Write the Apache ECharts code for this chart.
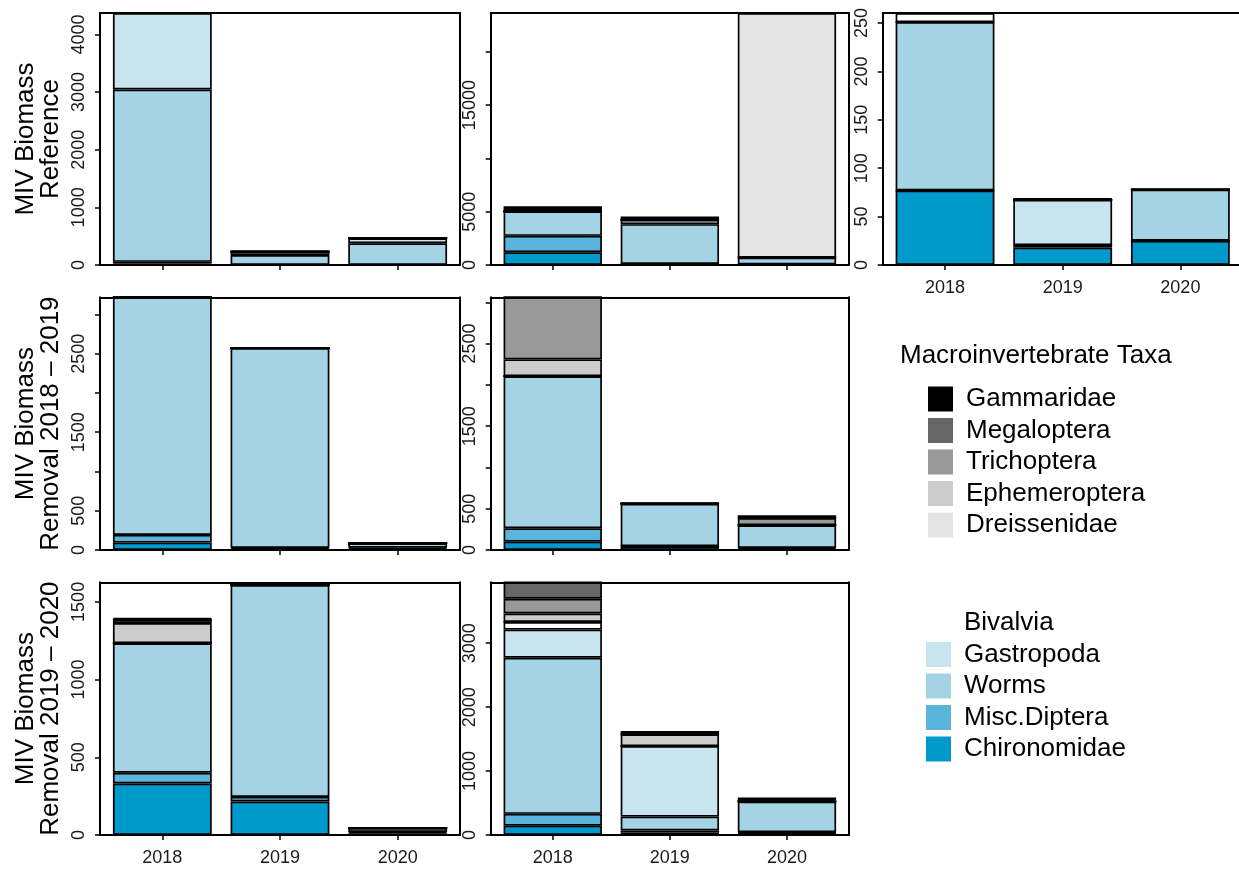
<!DOCTYPE html>
<html>
<head>
<meta charset="utf-8">
<script src="https://cdn.jsdelivr.net/npm/echarts@6/dist/echarts.min.js"></script>
<style>
  html, body { margin: 0; padding: 0; background: #fff; }
  #chart { width: 1239px; height: 869px; }
</style>
</head>
<body>
<div id="chart"></div>
<script>
// ---- data -------------------------------------------------------------
const years = ['2018', '2019', '2020'];

// stacking order, bottom to top
const taxa = ['Chironomidae', 'Misc.Diptera', 'Worms', 'Gastropoda', 'Bivalvia',
              'Dreissenidae', 'Ephemeroptera', 'Trichoptera', 'Megaloptera', 'Gammaridae'];
const taxaColors = ['#0099cc', '#5ab4dc', '#a3d3e5', '#c8e4ef', '#ffffff',
                    '#e5e5e5', '#cccccc', '#999999', '#666666', '#000000'];

// Biomass per taxon; one triple (2018, 2019, 2020) per panel:
// [Reference A, Reference B, Reference C, Removal 18-19 A, Removal 18-19 B, Removal 19-20 A, Removal 19-20 B]
const chironomidae  = [[25, 0, 0], [1190, 100, 40], [77, 18, 25], [94, 15, 15], [101, 45, 15], [331, 216, 12], [146, 40, 35]];
const miscDiptera   = [[30, 0, 0], [1545, 0, 0], [0, 2.5, 0], [98, 10, 15], [163, 0, 10], [70, 29, 8], [185, 30, 10]];
const worms         = [[2990, 172, 377], [2295, 3730, 650], [174, 0, 53], [3026, 2547, 55], [1841, 516, 275], [833, 1363, 25], [2441, 218, 479]];
const gastropoda    = [[1327, 60, 88], [0, 415, 0], [0, 47, 0], [0, 0, 0], [0, 0, 0], [0, 0, 0], [441, 1103, 0]];
const bivalvia      = [[0, 0, 0], [0, 0, 0], [9.4, 0, 0], [0, 0, 0], [0, 0, 0], [0, 0, 0], [120, 0, 0]];
const dreissenidae  = [[0, 0, 0], [0, 0, 22950], [0, 0, 0], [0, 0, 0], [0, 0, 0], [0, 0, 0], [0, 0, 0]];
const ephemeroptera = [[0, 0, 0], [0, 0, 0], [0, 0, 0], [0, 0, 0], [204, 0, 0], [130, 0, 0], [132, 184, 0]];
const trichoptera   = [[0, 0, 0], [0, 0, 0], [0, 0, 0], [0, 0, 0], [752, 0, 86], [24, 0, 0], [230, 0, 0]];
const megaloptera   = [[0, 0, 0], [0, 0, 0], [0, 0, 0], [0, 0, 0], [0, 0, 0], [0, 0, 0], [258, 0, 0]];
const gammaridae    = [[0, 0, 0], [470, 315, 0], [0, 1.5, 0], [0, 0, 0], [0, 0, 36], [8, 18, 0], [0, 52, 63]];

// y-axis ticks and the tick labels that are printed, per panel
const yTicks = [
  [0, 1000, 2000, 3000, 4000],
  [0, 5000, 10000, 15000, 20000],
  [0, 50, 100, 150, 200, 250],
  [0, 500, 1000, 1500, 2000, 2500, 3000],
  [0, 500, 1000, 1500, 2000, 2500, 3000],
  [0, 500, 1000, 1500],
  [0, 1000, 2000, 3000]
];
const yTickLabels = [
  [0, 1000, 2000, 3000, 4000],
  [0, 5000, 15000],
  [0, 50, 100, 150, 200, 250],
  [0, 500, 1500, 2500],
  [0, 500, 1500, 2500],
  [0, 500, 1000, 1500],
  [0, 1000, 2000, 3000]
];

const rowTitles = ['MIV Biomass\nReference', 'MIV Biomass\nRemoval 2018 \u2013 2019', 'MIV Biomass\nRemoval 2019 \u2013 2020'];

const legendTop = ['Gammaridae', 'Megaloptera', 'Trichoptera', 'Ephemeroptera', 'Dreissenidae'];
const legendBottom = ['Bivalvia', 'Gastropoda', 'Worms', 'Misc.Diptera', 'Chironomidae'];
const legendTitle = 'Macroinvertebrate Taxa';

// ---- layout -------------------------------------------------------------
const taxonValues = [chironomidae, miscDiptera, worms, gastropoda, bivalvia,
                     dreissenidae, ephemeroptera, trichoptera, megaloptera, gammaridae];

// each panel: a framed box, and an inset plotting band where the bars sit
const panels = [
  { left: 100,   top: 13,    width: 360,   height: 252,   title: 0,    xLabels: false },
  { left: 490.7, top: 13,    width: 358.3, height: 252,   title: null, xLabels: false },
  { left: 882.7, top: 13,    width: 360,   height: 252,   title: null, xLabels: true },
  { left: 100,   top: 297.3, width: 360,   height: 252.7, title: 1,    xLabels: false },
  { left: 490.7, top: 297.3, width: 358.3, height: 252.7, title: null, xLabels: false },
  { left: 100,   top: 582.3, width: 360,   height: 252.7, title: 2,    xLabels: true },
  { left: 490.7, top: 582.3, width: 358.3, height: 252.7, title: null, xLabels: true }
];
const INSET = 3.5;

const FONT = '"Liberation Sans", Arial, sans-serif';
const INK = '#1a1a1a';
const LINE = { color: '#000', width: 2 };

const grid = [], xAxis = [], yAxis = [], series = [];

panels.forEach((p, i) => {
  // top of the panel = tallest stack
  let yMax = 0;
  years.forEach((_, j) => {
    let s = 0;
    taxonValues.forEach(arr => { s += arr[i][j]; });
    yMax = Math.max(yMax, s);
  });

  // frame grid (index 2i) and bar grid (index 2i+1)
  grid.push({ left: p.left, top: p.top, width: p.width, height: p.height,
              containLabel: false, outerBoundsMode: 'none' });
  grid.push({ left: p.left + INSET, top: p.top, width: p.width - 2 * INSET, height: p.height,
              containLabel: false, outerBoundsMode: 'none' });

  const g0 = 2 * i, g1 = 2 * i + 1;

  // frame: bottom + top lines, left axis with ticks and labels, right line
  xAxis.push({
    type: 'category', gridIndex: g0, data: years, position: 'bottom', z: 10,
    axisLine: { show: true, onZero: false, lineStyle: LINE },
    axisTick: { show: false }, axisLabel: { show: false }, splitLine: { show: false }
  });
  xAxis.push({
    type: 'category', gridIndex: g0, data: years, position: 'top', z: 10,
    axisLine: { show: true, onZero: false, lineStyle: LINE },
    axisTick: { show: false }, axisLabel: { show: false }, splitLine: { show: false }
  });
  const yLeft = {
    type: 'value', gridIndex: g0, min: 0, max: yMax, position: 'left', z: 10,
    axisLine: { show: true, onZero: false, lineStyle: LINE },
    axisTick: { show: true, length: 5, customValues: yTicks[i], lineStyle: { color: '#000', width: 1.5 } },
    axisLabel: {
      show: true, rotate: 90, customValues: yTickLabels[i], color: INK,
      fontSize: 18, fontFamily: FONT, margin: 12,
      formatter: v => String(v)
    },
    splitLine: { show: false }
  };
  if (p.title !== null) {
    Object.assign(yLeft, {
      name: rowTitles[p.title], nameLocation: 'middle', nameRotate: 90, nameGap: 37,
      nameMoveOverlap: false,
      nameTextStyle: { fontSize: 26, lineHeight: 25, color: '#000', fontFamily: FONT, align: 'center' }
    });
  }
  yAxis.push(yLeft);
  yAxis.push({
    type: 'value', gridIndex: g0, min: 0, max: yMax, position: 'right', z: 10,
    axisLine: { show: true, onZero: false, lineStyle: LINE },
    axisTick: { show: false }, axisLabel: { show: false }, splitLine: { show: false }
  });

  // bars: category axis whose ticks sit under each bar
  const xBarIdx = xAxis.length;
  xAxis.push({
    type: 'category', gridIndex: g1, data: years, position: 'bottom', z: 10,
    axisLine: { show: false, onZero: false },
    axisTick: { show: true, alignWithLabel: true, length: 5, lineStyle: { color: '#000', width: 1.5 } },
    axisLabel: { show: p.xLabels, color: INK, fontSize: 18, fontFamily: FONT, margin: 14 },
    splitLine: { show: false }
  });
  const yBarIdx = yAxis.length;
  yAxis.push({
    type: 'value', gridIndex: g1, min: 0, max: yMax, show: false, splitLine: { show: false }
  });

  taxa.forEach((name, k) => {
    series.push({
      type: 'bar', name: name, stack: 'panel' + i,
      xAxisIndex: xBarIdx, yAxisIndex: yBarIdx,
      data: taxonValues[k][i],
      barWidth: '84%', clip: true, silent: true,
      itemStyle: { color: taxaColors[k], borderColor: '#000', borderWidth: 1.7 }
    });
  });
});

const legendCommon = {
  orient: 'vertical', icon: 'rect', itemWidth: 25, itemHeight: 25, itemGap: 5.5,
  padding: 0, selectedMode: false,
  itemStyle: { borderWidth: 0 },
  textStyle: { fontSize: 26, color: '#000', fontFamily: FONT, padding: [0, 0, 0, 8] }
};

const option = {
  backgroundColor: '#fff',
  animation: false,
  title: {
    text: legendTitle, left: 900, top: 343, padding: 0,
    textStyle: { fontSize: 26, fontWeight: 'normal', color: '#000', fontFamily: FONT }
  },
  legend: [
    Object.assign({}, legendCommon, { left: 928, top: 386, data: legendTop }),
    Object.assign({}, legendCommon, { left: 926, top: 610, data: legendBottom })
  ],
  grid, xAxis, yAxis, series
};

const chart = echarts.init(document.getElementById('chart'), null, { renderer: 'canvas' });
chart.setOption(option);
</script>
</body>
</html>
